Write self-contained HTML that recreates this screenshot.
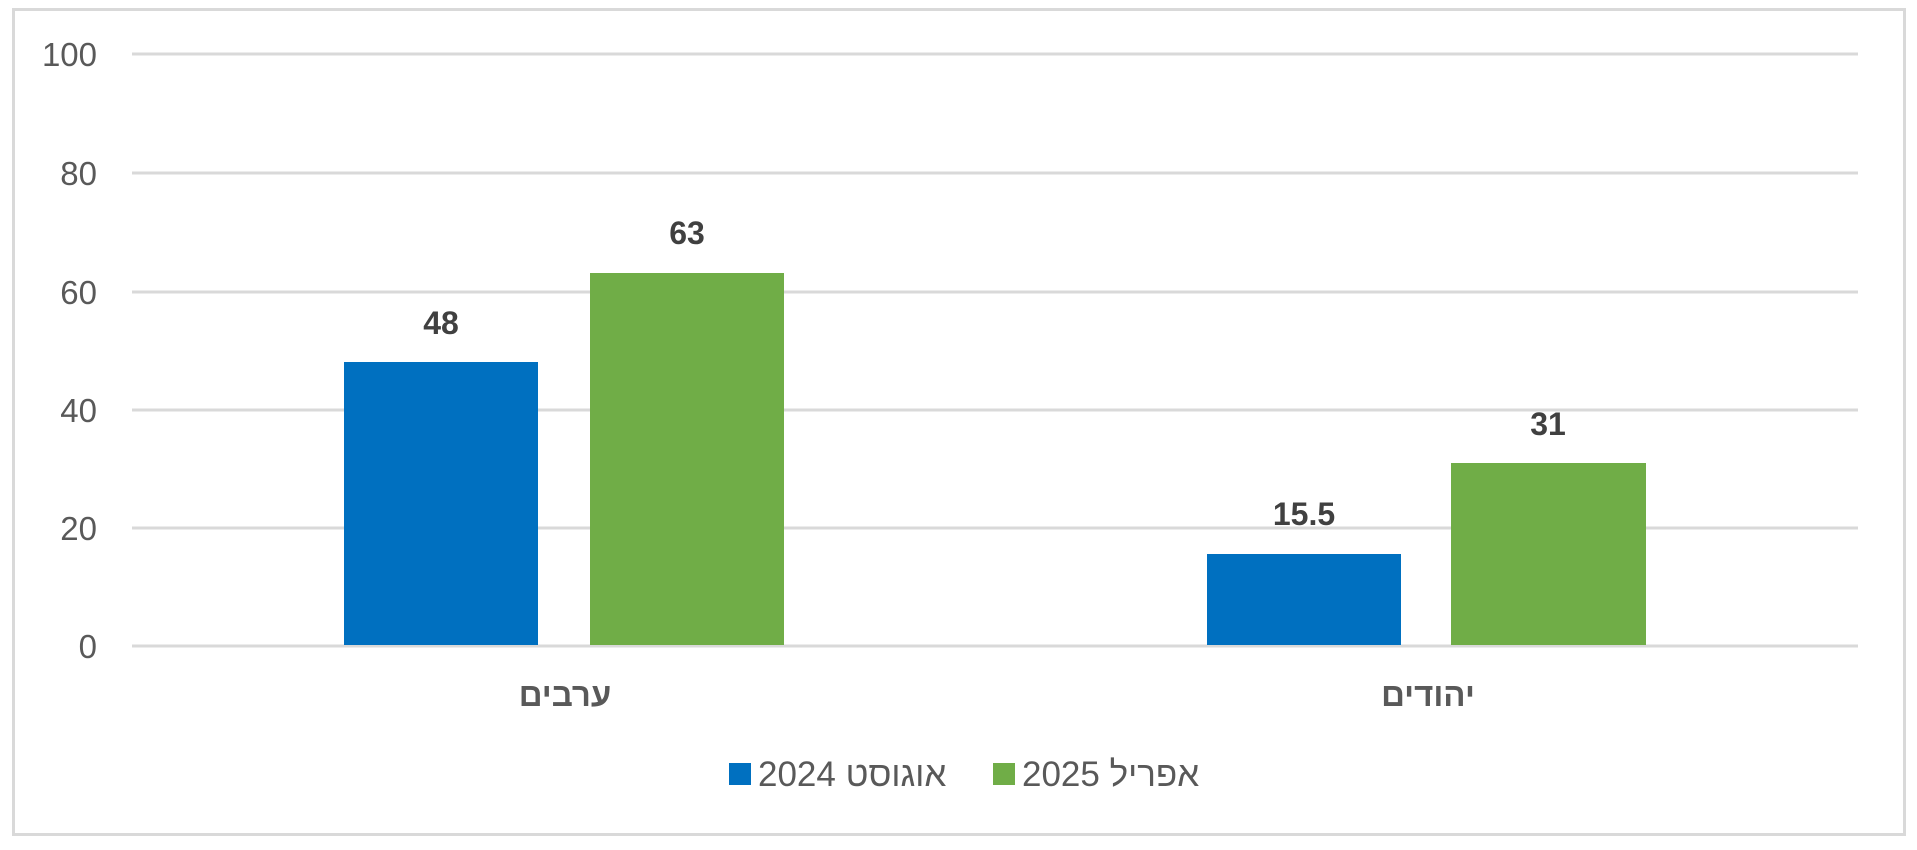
<!DOCTYPE html>
<html><head><meta charset="utf-8"><style>
body{margin:0;background:#fff}
</style></head><body>
<svg width="1917" height="845" xmlns="http://www.w3.org/2000/svg" font-family="Liberation Sans, DejaVu Sans, sans-serif">
<rect x="13.5" y="9.5" width="1891" height="825" fill="#fff" stroke="#d9d9d9" stroke-width="3"/>
<g stroke="#d9d9d9" stroke-width="3">
<line x1="132" x2="1858" y1="54" y2="54"/>
<line x1="132" x2="1858" y1="173" y2="173"/>
<line x1="132" x2="1858" y1="292" y2="292"/>
<line x1="132" x2="1858" y1="410" y2="410"/>
<line x1="132" x2="1858" y1="528" y2="528"/>
<line x1="132" x2="1858" y1="646" y2="646"/>
</g>
<g fill="#595959" font-size="33" text-anchor="end">
<text x="97" y="66">100</text>
<text x="97" y="185">80</text>
<text x="97" y="304">60</text>
<text x="97" y="422">40</text>
<text x="97" y="540">20</text>
<text x="97" y="658">0</text>
</g>
<rect x="344" y="362" width="194" height="283" fill="#0070c0"/>
<rect x="590" y="273" width="194" height="372" fill="#70ad47"/>
<rect x="1207" y="554" width="194" height="91" fill="#0070c0"/>
<rect x="1451" y="463" width="195" height="182" fill="#70ad47"/>
<g fill="#404040" font-size="32" font-weight="bold" text-anchor="middle">
<text x="441" y="334">48</text>
<text x="687" y="244">63</text>
<text x="1304" y="525">15.5</text>
<text x="1548" y="435">31</text>
</g>
<g fill="#595959" font-size="33" font-weight="bold" text-anchor="middle">
<text x="565" y="706">ערבים</text>
<text x="1428" y="706">יהודים</text>
</g>
<rect x="729" y="763" width="22" height="22" fill="#0070c0"/>
<text x="758" y="786" fill="#595959" font-size="35" direction="ltr">2024 אוגוסט</text>
<rect x="993" y="763" width="22" height="22" fill="#70ad47"/>
<text x="1022" y="786" fill="#595959" font-size="35" direction="ltr">2025 אפריל</text>
</svg>
</body></html>
